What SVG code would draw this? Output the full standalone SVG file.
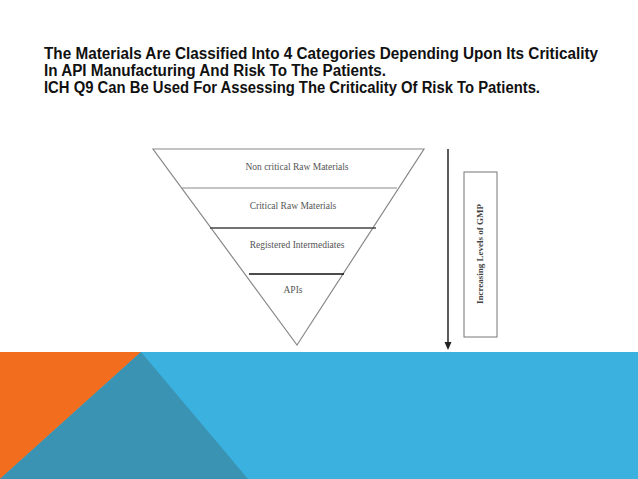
<svg xmlns="http://www.w3.org/2000/svg" width="638" height="479" viewBox="0 0 638 479">
<style>
.title{font-family:"Liberation Sans",Arial,sans-serif;font-weight:bold;font-size:16px;fill:#111}
.lbl{font-family:"Liberation Serif","Times New Roman",serif;font-size:9.5px;fill:#555;text-anchor:middle}
.edge{stroke:#888;stroke-width:1.2;fill:none}
</style>
<rect width="638" height="479" fill="#fff"/>
<g id="title">
<text class="title" x="44" y="59" textLength="554" lengthAdjust="spacingAndGlyphs">The Materials Are Classified Into 4 Categories Depending Upon Its Criticality</text>
<text class="title" x="44" y="76" textLength="342" lengthAdjust="spacingAndGlyphs">In API Manufacturing And Risk To The Patients.</text>
<text class="title" x="44" y="93" textLength="496" lengthAdjust="spacingAndGlyphs">ICH Q9 Can Be Used For Assessing The Criticality Of Risk To Patients.</text>
</g>
<g id="pyramid">
<polygon class="edge" points="153,149 424,149 297,345"/>
<line class="edge" x1="182" y1="188" x2="397" y2="188"/>
<line x1="210" y1="228" x2="376" y2="228" stroke="#444" stroke-width="1.3"/>
<line x1="249" y1="274" x2="344" y2="274" stroke="#111" stroke-width="1.5"/>
</g>
<g id="n1"><text class="lbl" x="297" y="170">Non critical Raw Materials</text></g>
<g id="n2"><text class="lbl" x="293" y="209">Critical Raw Materials</text></g>
<g id="n3"><text class="lbl" x="297" y="248">Registered Intermediates</text></g>
<g id="n4"><text class="lbl" x="293" y="293">APIs</text></g>
<g id="connectors">
<line x1="448" y1="149" x2="448" y2="343" stroke="#333" stroke-width="1.6"/>
<path d="M444.5,342 L451.5,342 L448,350 Z" fill="#222"/>
</g>
<g id="gmp">
<rect x="464" y="172" width="33" height="165" fill="#fff" stroke="#777" stroke-width="1"/>
<text x="0" y="0" transform="translate(483,254) rotate(-90)" font-family="'Liberation Serif','Times New Roman',serif" font-size="9" font-weight="bold" fill="#444" text-anchor="middle">Increasing Levels of GMP</text>
</g>
<g id="band">
<rect x="0" y="352" width="638" height="127" fill="#3BB1DF"/>
<polygon points="0,352 141,352 0,479" fill="#F36D1E"/>
<polygon points="141,352 248,479 0,479" fill="#3A93B3"/>
</g>
</svg>
